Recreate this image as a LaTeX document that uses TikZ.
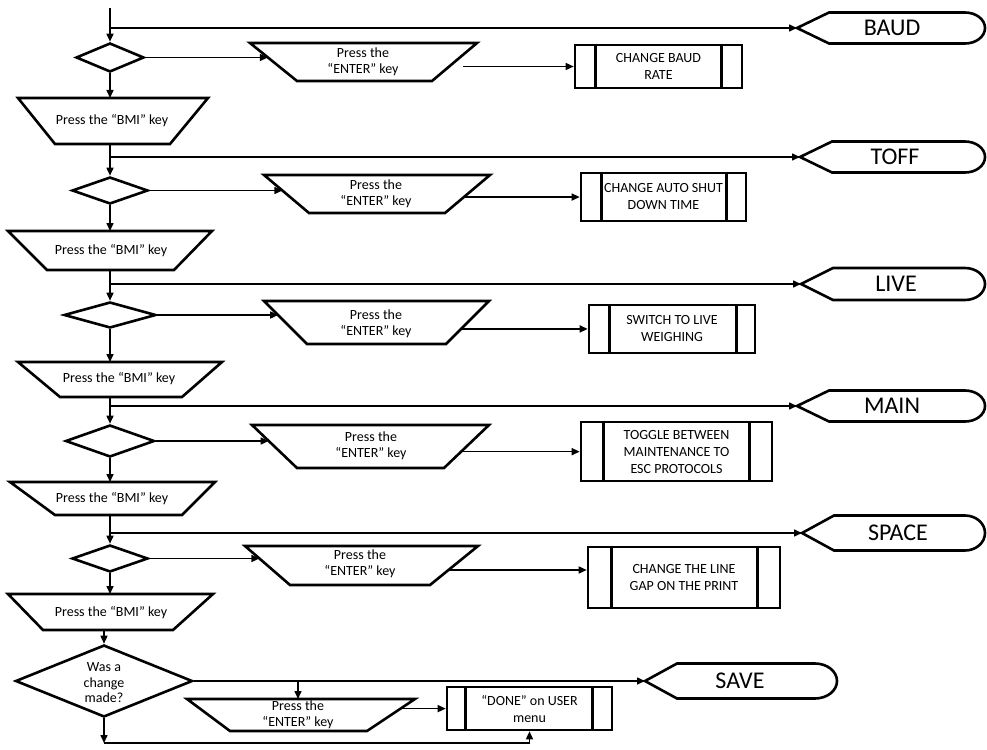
\documentclass[tikz,border=0pt]{standalone}
\usepackage{fontspec}
\setmainfont{Carlito}
\usetikzlibrary{arrows.meta,calc,shapes.geometric}
\newcommand\manop[7]{% name, top y, top x1, top x2, bottom y, bottom x1, bottom x2
  \coordinate (#1a) at (#3,#2); \coordinate (#1b) at (#4,#2);
  \coordinate (#1c) at (#7,#5); \coordinate (#1d) at (#6,#5);
  \draw[shp] (#1a) -- (#1b) -- (#1c) -- (#1d) -- cycle;}
\newcommand\dispbox[5]{% tip x, centre y, half height, right x, end radius
  \draw[shp] (#1,#2) -- (#1+32,#2-#3) -- (#4-#5,#2-#3)
    .. controls (#4-0.448*#5,#2-#3) and (#4,#2-0.552*#3) .. (#4,#2)
    .. controls (#4,#2+0.552*#3) and (#4-0.448*#5,#2+#3) .. (#4-#5,#2+#3)
    -- (#1+32,#2+#3) -- cycle;}
\newcommand\procbars[3]{% node, left offset, right offset
  \draw[shp] ($(#1.north west)+(#2,0)$) -- ($(#1.south west)+(#2,0)$);
  \draw[shp] ($(#1.north east)+(-#3,0)$) -- ($(#1.south east)+(-#3,0)$);}
\begin{document}
\begin{tikzpicture}[x=1pt,y=-1pt,
  shp/.style={line width=2.6pt,line join=miter},
  conn/.style={line width=1.5pt},
  arr/.style={conn,-{Triangle[length=8pt,width=7pt]}},
  txt/.style={font=\fontsize{14}{16.5}\selectfont,align=center,inner sep=0pt},
  big/.style={font=\fontsize{24}{28}\selectfont,inner sep=0pt},
  dia/.style={shape=diamond,draw,line width=2.6pt,inner sep=0pt},
  proc/.style={draw,line width=2.6pt,inner sep=0pt,font=\fontsize{14}{17}\selectfont,align=center},
]
\useasboundingbox (0,0) rectangle (987,749);

% ---------- block 1 : BAUD ----------
\coordinate (start) at (110,8);
\node[dia,minimum width=68,minimum height=29] (d1) at (110,57.5) {};
\coordinate (baudtip) at (797,28);
\dispbox{797}{28}{15.5}{985}{20}
\node[big] (baud) at (892,28) {BAUD};
\manop{e1}{43}{250}{477}{81}{297}{432}
\node[txt] (e1t) at (363,62) {Press the\\“ENTER” key};
\coordinate (e1L) at ($(e1a)!0.38!(e1d)$);
\node[proc,minimum width=167,minimum height=43] (p1) at (658.5,66.5) {CHANGE BAUD\\RATE};
\procbars{p1}{22}{22}
\coordinate (e1R) at (463,66.5);
\manop{b1}{98}{18}{208}{144}{55}{170}
\node[txt] (b1t) at (112,121) {Press the “BMI” key};

\draw[arr] (start) -- (d1.north);
\draw[arr] (d1.north |- baudtip) -- (baudtip);
\draw[arr] (d1.east) -- (d1.east -| e1L);
\draw[arr] (e1R) -- (p1.west);
\draw[arr] (d1.south) -- (d1.south |- b1a);

% ---------- block 2 : TOFF ----------
\node[dia,minimum width=76,minimum height=27] (d2) at (110,190.5) {};
\coordinate (tofftip) at (800,157);
\dispbox{800}{157}{15.5}{985}{20}
\node[big] (toff) at (895,157) {TOFF};
\manop{e2}{175}{264}{490}{213}{309}{445}
\node[txt] (e2t) at (376,194) {Press the\\“ENTER” key};
\coordinate (e2L) at ($(e2a)!0.41!(e2d)$);
\coordinate (e2R) at ($(e2b)!0.58!(e2c)$);
\node[proc,minimum width=165,minimum height=48] (p2) at (663.5,197) {CHANGE AUTO SHUT\\DOWN TIME};
\procbars{p2}{22}{21}
\manop{b2}{231}{8}{212}{270}{47}{174}
\node[txt] (b2t) at (111,250.5) {Press the “BMI” key};

\draw[arr] (d2.north |- b1d) -- (d2.north);
\draw[arr] (d2.north |- tofftip) -- (tofftip);
\draw[arr] (d2.east) -- (d2.east -| e2L);
\draw[arr] (e2R) -- (e2R -| p2.west);
\draw[arr] (d2.south) -- (d2.south |- b2a);

% ---------- block 3 : LIVE ----------
\node[dia,minimum width=92,minimum height=26] (d3) at (110,315) {};
\coordinate (livetip) at (801,284);
\dispbox{801}{284}{16}{985}{20}
\node[big] (live) at (896,284) {LIVE};
\manop{e3}{301}{264}{489}{344}{307}{446}
\node[txt] (e3t) at (376,324) {Press the\\“ENTER” key};
\coordinate (e3L) at ($(e3a)!0.33!(e3d)$);
\coordinate (e3R) at ($(e3b)!0.65!(e3c)$);
\node[proc,minimum width=166,minimum height=48] (p3) at (672,329) {SWITCH TO LIVE\\WEIGHING};
\procbars{p3}{22}{20}
\manop{b3}{362}{18}{222}{397}{60}{182}
\node[txt] (b3t) at (119,379) {Press the “BMI” key};

\draw[arr] (d3.north |- b2d) -- (d3.north);
\draw[arr] (d3.north |- livetip) -- (livetip);
\draw[arr] (d3.east) -- (d3.east -| e3L);
\draw[arr] (e3R) -- (e3R -| p3.west);
\draw[arr] (d3.south) -- (d3.south |- b3a);

% ---------- block 4 : MAIN ----------
\node[dia,minimum width=89,minimum height=32] (d4) at (110,441) {};
\coordinate (maintip) at (797,406);
\dispbox{797}{406}{15.5}{985}{20}
\node[big] (main) at (892,406) {MAIN};
\manop{e4}{425}{252}{489}{468}{297}{444}
\node[txt] (e4t) at (371,446) {Press the\\“ENTER” key};
\coordinate (e4L) at ($(e4a)!0.37!(e4d)$);
\coordinate (e4R) at ($(e4b)!0.62!(e4c)$);
\node[proc,minimum width=191,minimum height=59] (p4) at (676.5,451.5) {TOGGLE BETWEEN\\MAINTENANCE TO\\ESC PROTOCOLS};
\procbars{p4}{24}{24}
\manop{b4}{482}{10}{215}{515}{55}{182}
\node[txt] (b4t) at (112,498.5) {Press the “BMI” key};

\draw[arr] (d4.north |- b3d) -- (d4.north);
\draw[arr] (d4.north |- maintip) -- (maintip);
\draw[arr] (d4.east) -- (d4.east -| e4L);
\draw[arr] (e4R) -- (e4R -| p4.west);
\draw[arr] (d4.south) -- (d4.south |- b4a);

% ---------- block 5 : SPACE ----------
\node[dia,minimum width=76,minimum height=27] (d5) at (110,558.5) {};
\coordinate (spacetip) at (802,533);
\dispbox{802}{533}{17.5}{985}{20}
\node[big] (space) at (898,533) {SPACE};
\manop{e5}{546}{245}{478}{585}{290}{430}
\node[txt] (e5t) at (360,564) {Press the\\“ENTER” key};
\coordinate (e5L) at ($(e5a)!0.32!(e5d)$);
\coordinate (e5R) at ($(e5b)!0.615!(e5c)$);
\node[proc,minimum width=192,minimum height=61] (p5) at (684,577.5) {CHANGE THE LINE\\GAP ON THE PRINT};
\procbars{p5}{25}{24}
\manop{b5}{594}{8}{213}{630}{43}{173}
\node[txt] (b5t) at (111,612.5) {Press the “BMI” key};

\draw[arr] (d5.north |- b4d) -- (d5.north);
\draw[arr] (d5.north |- spacetip) -- (spacetip);
\draw[arr] (d5.east) -- (d5.east -| e5L);
\draw[arr] (e5R) -- (e5R -| p5.west);
\draw[arr] (d5.south) -- (d5.south |- b5a);

% ---------- block 6 : SAVE ----------
\node[dia,minimum width=177,minimum height=72] (d6) at (104,681) {};
\node[txt,font=\fontsize{14}{15.5}\selectfont] (d6t) at (104,683) {Was a\\change\\made?};
\coordinate (savetip) at (645,681);
\dispbox{645}{681}{17.5}{837}{22}
\node[big] (save) at (740,681) {SAVE};
\manop{e6}{699}{187}{415}{731}{230}{367}
\node[txt] (e6t) at (298,715) {Press the\\“ENTER” key};
\coordinate (e6top) at (298,699);
\coordinate (e6R) at ($(e6b)!0.3!(e6c)$);
\node[proc,minimum width=165,minimum height=43] (p6) at (529.5,708.5) {“DONE” on USER\\menu};
\procbars{p6}{20}{21}
\coordinate (d6bot) at (104,743);

\draw[arr] (d6.north |- b5d) -- (d6.north);
\draw[arr] (d6.east) -- (savetip);
\draw[arr] (e6top |- d6.east) -- (e6top);
\draw[arr] (e6R) -- (e6R -| p6.west);
\draw[arr] (d6.south) -- (d6bot);
\draw[arr] (d6bot) -- (p6.south |- d6bot) -- (p6.south);
\end{tikzpicture}
\end{document}
